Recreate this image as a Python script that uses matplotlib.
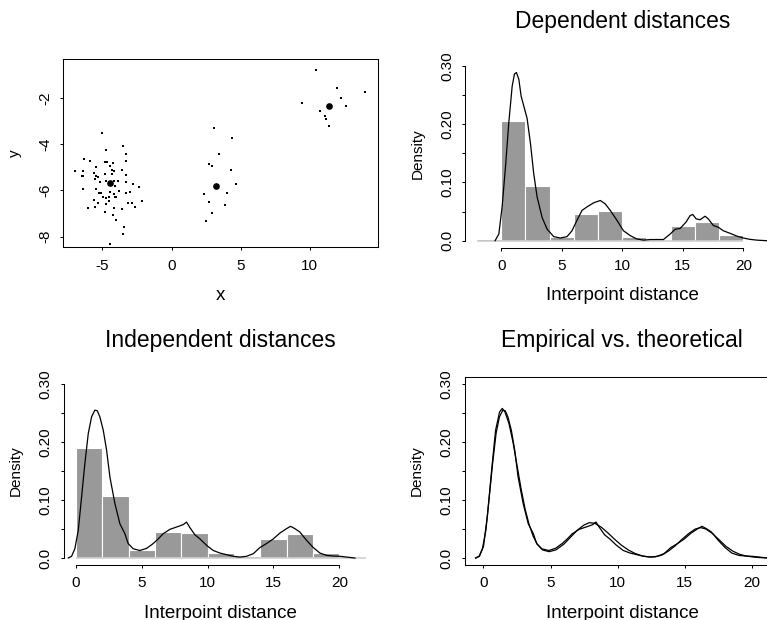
import matplotlib
matplotlib.use("Agg")
import matplotlib.pyplot as plt

plt.rcParams["font.family"] = ["Liberation Sans", "DejaVu Sans"]
plt.rcParams["axes.unicode_minus"] = False

# --- scatter: points and cluster centres ---
pts_x = [-5.02, -3.50, -4.76, -3.28, -6.30, -5.92, -4.83, -4.64, -4.25, -3.28,
         -5.48, -4.44, -6.98, -6.40, -4.28, -4.18, -3.57, -5.60, -4.81, -4.30,
         -3.28, -6.40, -5.46, -5.31, -5.51, -5.14, -4.73, -4.15, -3.89, -3.26,
         -2.78, -4.30, -4.08, -2.34, -6.38, -5.43, -3.79, -5.24, -5.10, -4.44,
         -4.13, -3.33, -3.00, -4.98, -4.76, -4.08, -4.00, -4.52, -5.60, -4.50,
         -3.16, -2.83, -2.17, -5.34, -4.73, -2.61, -6.04, -5.56, -4.13, -3.62,
         -4.83, -4.25, -4.01, -3.45, -3.48, -4.47, -6.50, -6.43,
         3.06, 4.34, 3.42, 2.70, 2.89, 4.27, 4.63, 2.36, 4.00, 2.72, 3.83, 2.92, 2.51,
         10.41, 11.98, 14.02, 9.42, 12.22, 12.60, 10.70, 11.13, 11.18, 11.42]
pts_y = [-3.51, -4.08, -4.26, -4.42, -4.65, -4.74, -4.78, -4.78, -4.83, -4.74,
         -5.00, -4.94, -5.16, -5.16, -5.10, -5.17, -5.13, -5.26, -5.29, -5.29,
         -5.35, -5.39, -5.39, -5.42, -5.51, -5.65, -5.59, -5.61, -5.59, -5.65,
         -5.72, -5.78, -5.81, -5.85, -5.94, -5.95, -6.04, -6.11, -6.11, -6.08,
         -6.15, -6.10, -6.07, -6.28, -6.34, -6.30, -6.30, -6.30, -6.40, -6.44,
         -6.54, -6.54, -6.47, -6.54, -6.60, -6.72, -6.77, -6.73, -6.77, -6.82,
         -6.93, -7.08, -7.28, -7.60, -7.90, -8.33, -5.38, -5.95,
         -3.30, -3.73, -4.42, -4.84, -4.96, -5.12, -5.74, -6.16, -6.11, -6.52, -6.63, -6.99, -7.32,
         -0.79, -1.57, -1.74, -2.22, -2.01, -2.35, -2.56, -2.79, -2.91, -3.21]
centre_x = [-4.48, 3.23, 11.42]
centre_y = [-5.67, -5.82, -2.36]

# --- dependent distances: histogram + density ---
dep_breaks = [-2, 0, 2, 4, 6, 8, 10, 12, 14, 16, 18, 20]
dep_dens = [0.003, 0.205, 0.0935, 0.0063, 0.0456, 0.0508, 0.007, 0.001, 0.026, 0.032, 0.0098]
dep_x = [-0.5, -0.19, 0.08, 0.36, 0.63, 0.91, 1.1, 1.26, 1.46, 1.65, 1.87, 2.14, 2.42,
         2.69, 2.97, 3.38, 3.79, 4.34, 4.89, 5.44, 5.85, 6.26, 6.68, 7.09, 7.64, 8.19,
         8.6, 9.01, 9.56, 10.1, 10.66, 11.2, 11.76, 12.3, 12.86, 13.4, 13.96, 14.37,
         14.78, 15.27, 15.6, 15.82, 16.1, 16.43, 16.84, 17.1, 17.53, 17.94, 18.35,
         18.9, 19.45, 20.0, 20.55, 21.1, 21.9, 23.0]
dep_y = [0.0, 0.0115, 0.058, 0.127, 0.202, 0.265, 0.286, 0.2885, 0.277, 0.248, 0.231,
         0.21, 0.167, 0.115, 0.075, 0.040, 0.020, 0.007, 0.0046, 0.007, 0.017, 0.035,
         0.052, 0.058, 0.065, 0.069, 0.063, 0.052, 0.035, 0.017, 0.0087, 0.003, 0.001,
         0.002, 0.002, 0.002, 0.0115, 0.0196, 0.021, 0.032, 0.043, 0.045, 0.0375, 0.036,
         0.042, 0.0375, 0.026, 0.023, 0.017, 0.0127, 0.008, 0.0046, 0.0023, 0.001, 0.0, 0.0]

# --- independent distances: histogram + density ---
ind_breaks = [0, 2, 4, 6, 8, 10, 12, 14, 16, 18, 20, 22]
ind_dens = [0.19, 0.107, 0.0138, 0.045, 0.0437, 0.008, 0.0035, 0.032, 0.041, 0.0086, 0.0005]
ind_x = [-0.58, -0.33, -0.08, 0.18, 0.43, 0.68, 0.94, 1.19, 1.44, 1.62, 1.82, 2.08, 2.33,
         2.58, 2.96, 3.34, 3.72, 3.97, 4.35, 4.86, 5.37, 5.87, 6.25, 6.63, 7.14, 7.65,
         8.15, 8.4, 8.66, 9.04, 9.42, 9.92, 10.43, 10.94, 11.44, 11.95, 12.46, 12.96,
         13.47, 13.97, 14.48, 14.99, 15.49, 16.0, 16.3, 16.63, 17.0, 17.52, 18.03,
         18.53, 19.04, 19.54, 20.05, 20.56, 21.19]
ind_y = [0.0, 0.003, 0.016, 0.048, 0.105, 0.163, 0.215, 0.2435, 0.255, 0.254, 0.2435,
         0.22, 0.186, 0.14, 0.094, 0.059, 0.042, 0.025, 0.016, 0.013, 0.0167, 0.025,
         0.033, 0.042, 0.0495, 0.0535, 0.0576, 0.062, 0.0524, 0.040, 0.033, 0.022,
         0.013, 0.0086, 0.0058, 0.003, 0.0017, 0.003, 0.0075, 0.018, 0.025, 0.033,
         0.043, 0.0507, 0.0547, 0.0507, 0.045, 0.0305, 0.018, 0.0086, 0.0046, 0.0035,
         0.003, 0.0017, 0.0]

# --- theoretical density ---
theo_x = [-0.6, -0.3, 0.0, 0.3, 0.6, 0.9, 1.2, 1.4, 1.6, 1.9, 2.2, 2.5, 2.8, 3.1, 3.4,
          3.7, 4.0, 4.4, 4.9, 5.4, 6.0, 6.5, 7.0, 7.5, 7.9, 8.3, 8.8, 9.3, 9.8, 10.3,
          10.8, 11.3, 11.8, 12.3, 12.8, 13.3, 13.8, 14.3, 14.8, 15.3, 15.8, 16.2, 16.6,
          17.1, 17.6, 18.1, 18.6, 19.1, 19.6, 20.1, 20.6, 21.2, 21.8, 23.0]
theo_y = [0.0, 0.003, 0.02, 0.075, 0.15, 0.22, 0.252, 0.258, 0.252, 0.232, 0.200, 0.160,
          0.120, 0.085, 0.058, 0.038, 0.024, 0.014, 0.011, 0.014, 0.024, 0.036, 0.048,
          0.057, 0.061, 0.060, 0.053, 0.043, 0.032, 0.022, 0.014, 0.008, 0.004, 0.002,
          0.002, 0.005, 0.012, 0.021, 0.032, 0.042, 0.050, 0.0525, 0.050, 0.042, 0.031,
          0.020, 0.012, 0.0065, 0.0035, 0.0018, 0.0008, 0.0003, 0.0, 0.0]

W, H = 767, 620
fig = plt.figure(figsize=(W / 100, H / 100), dpi=100)


def add_panel(left, top, right, bottom):
    ax = fig.add_axes([left / W, 1 - bottom / H, (right - left) / W, (bottom - top) / H])
    return ax, right - left, bottom - top


def style(ax, w, h, xlabel, ylabel):
    ax.tick_params(direction="out", length=2.2, width=0.75, labelsize=11, pad=6)
    for lab in ax.get_yticklabels():
        lab.set_rotation(90)
        lab.set_va("center")
    for s in ax.spines.values():
        s.set_linewidth(0.75)
    ax.set_xlabel(xlabel, fontsize=13.5)
    ax.xaxis.set_label_coords(0.5, -48 / h)
    ax.xaxis.label.set_va("center")
    ax.set_ylabel(ylabel, fontsize=11)
    ax.yaxis.set_label_coords(-48 / w, 0.5)
    ax.yaxis.label.set_va("center")


def hist_panel(ax, breaks, dens):
    ax.bar(breaks[:-1], dens, width=2, align="edge", color="#999999",
           edgecolor="white", linewidth=0.8, zorder=1)
    ax.hlines(0, breaks[0], breaks[-1], color="#cfcfcf", linewidth=1.2, zorder=2)
    ax.spines["top"].set_visible(False)
    ax.spines["right"].set_visible(False)
    ax.spines["left"].set_bounds(0, 0.3)
    ax.spines["bottom"].set_bounds(0, 20)


dens_ticks = [0, 0.05, 0.10, 0.15, 0.20, 0.25, 0.30]
dens_labels = ["0.0", "", "0.10", "", "0.20", "", "0.30"]
dist_ticks = [0, 5, 10, 15, 20]

# panel 1: scatter
ax1, w, h = add_panel(63.3, 59, 378, 247.3)
ax1.scatter(pts_x, pts_y, s=2.5, marker="s", color="black", linewidths=0)
ax1.plot(centre_x, centre_y, "o", color="black", markersize=3.8)
ax1.set_xlim(-7.83, 14.93)
ax1.set_ylim(-8.46, -0.325)
ax1.set_xticks([-5, 0, 5, 10])
ax1.set_yticks([-8, -6, -4, -2])
ax1.set_yticklabels(["-8", "-6", "-4", "-2"])
ax1.set_xticklabels(["-5", "0", "5", "10"])
style(ax1, w, h, "x", "y")

# panel 2: dependent distances
ax2, w, h = add_panel(465.3, 58.8, 779.2, 247.7)
hist_panel(ax2, dep_breaks, dep_dens)
ax2.plot(dep_x, dep_y, color="black", linewidth=0.9, zorder=3)
ax2.set_xlim(-2.96, 22.96)
ax2.set_ylim(-0.012, 0.312)
ax2.set_xticks(dist_ticks)
ax2.set_yticks(dens_ticks)
ax2.set_yticklabels(dens_labels)
style(ax2, w, h, "Interpoint distance", "Density")
ax2.set_title("Dependent distances", fontsize=16.5, pad=22)

# panel 3: independent distances
ax3, w, h = add_panel(63.8, 377.1, 377.7, 565)
hist_panel(ax3, ind_breaks, ind_dens)
ax3.plot(ind_x, ind_y, color="black", linewidth=0.9, zorder=3)
ax3.set_xlim(-0.92, 22.92)
ax3.set_ylim(-0.012, 0.312)
ax3.set_xticks(dist_ticks)
ax3.set_yticks(dens_ticks)
ax3.set_yticklabels(dens_labels)
style(ax3, w, h, "Interpoint distance", "Density")
ax3.set_title("Independent distances", fontsize=16.5, pad=22)

# panel 4: empirical vs theoretical
ax4, w, h = add_panel(465, 377.1, 779, 565)
ax4.plot(ind_x, ind_y, color="black", linewidth=0.9)
ax4.plot(theo_x, theo_y, color="black", linewidth=0.9)
ax4.set_xlim(-1.38, 22.05)
ax4.set_ylim(-0.012, 0.312)
ax4.set_xticks(dist_ticks)
ax4.set_yticks(dens_ticks)
ax4.set_yticklabels(dens_labels)
style(ax4, w, h, "Interpoint distance", "Density")
ax4.set_title("Empirical vs. theoretical", fontsize=16.5, pad=22)

fig.savefig("out.png", dpi=100)
